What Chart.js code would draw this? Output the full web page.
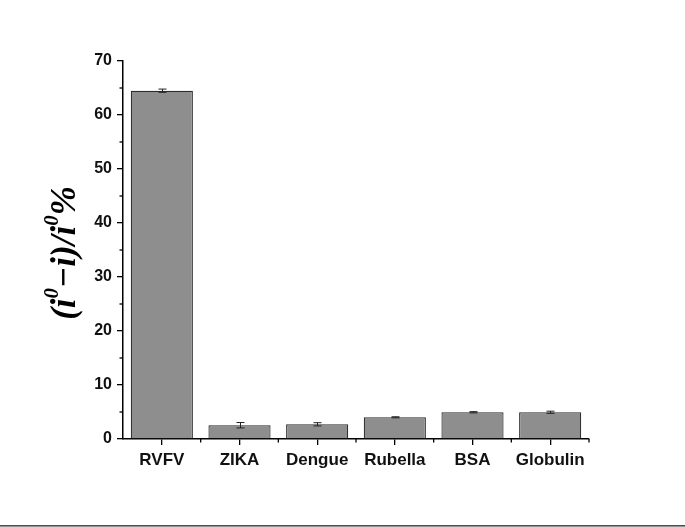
<!DOCTYPE html>
<html><head><meta charset="utf-8">
<script src="https://cdn.jsdelivr.net/npm/chart.js@4"></script>
<style>html,body{margin:0;padding:0;background:#fff;}canvas{display:block;}</style>
</head><body>
<canvas id="c" width="685" height="527"></canvas>
<script>
const categories = ['RVFV', 'ZIKA', 'Dengue', 'Rubella', 'BSA', 'Globulin'];
const values = [64.5, 2.55, 2.72, 4.02, 4.95, 4.95];
const errors = [0.3, 0.5, 0.3, 0.1, 0.12, 0.2];
const yMin = 0, yMax = 70, yStep = 10;

const extras = {
  id: 'extras',
  beforeDraw(chart) {
    const c = chart.ctx;
    c.save();
    c.fillStyle = '#fff';
    c.fillRect(0, 0, chart.width, chart.height);
    c.restore();
  },
  afterDraw(chart) {
    const c = chart.ctx, x = chart.scales.x, y = chart.scales.y;
    const meta = chart.getDatasetMeta(0);
    c.save();
    // error bars
    c.strokeStyle = '#222'; c.lineWidth = 1;
    meta.data.forEach((bar, i) => {
      const px = Math.round(bar.x) + 0.5;
      const top = y.getPixelForValue(values[i] + errors[i]);
      const bot = y.getPixelForValue(values[i] - errors[i]);
      c.beginPath();
      c.moveTo(px, top); c.lineTo(px, bot);
      c.moveTo(px - 4, top); c.lineTo(px + 4, top);
      c.moveTo(px - 4, bot); c.lineTo(px + 4, bot);
      c.stroke();
    });
    // minor y ticks
    c.strokeStyle = '#000'; c.lineWidth = 1.3;
    for (let v = yMin + yStep / 2; v < yMax; v += yStep) {
      const py = y.getPixelForValue(v);
      c.beginPath(); c.moveTo(x.left, py); c.lineTo(x.left - 3.5, py); c.stroke();
    }
    // minor x ticks at category boundaries
    const step = x.getPixelForValue(1) - x.getPixelForValue(0);
    for (let i = 1; i <= categories.length; i++) {
      const px = x.getPixelForValue(i) - step / 2;
      c.beginPath(); c.moveTo(px, y.bottom); c.lineTo(px, y.bottom + 3.5); c.stroke();
    }
    // y axis title with superscripts
    c.translate(56, (y.top + y.bottom) / 2 + 3);
    c.rotate(-Math.PI / 2);
    c.fillStyle = '#000';
    const big = 'italic bold 35px "Liberation Serif", "Times New Roman", serif';
    const small = 'italic bold 21px "Liberation Serif", "Times New Roman", serif';
    const parts = [['(i', big, 0], ['0', small, -13], ['\u2212i)/i', big, 0], ['0', small, -13], ['%', big, 0]];
    let total = 0;
    parts.forEach(p => { c.font = p[1]; total += c.measureText(p[0]).width; });
    let cx = -total / 2;
    c.textBaseline = 'middle';
    parts.forEach(p => { c.font = p[1]; c.fillText(p[0], cx, 10 + p[2]); cx += c.measureText(p[0]).width; });
    c.restore();
    // bottom rule
    c.save();
    c.fillStyle = '#4d4d4d';
    c.fillRect(0, 525, chart.width, 1.6);
    c.restore();
  }
};

new Chart(document.getElementById('c'), {
  type: 'bar',
  data: {
    labels: categories,
    datasets: [{
      data: values,
      backgroundColor: '#8e8e8e',
      borderColor: '#2b2b2b',
      borderWidth: 1.2,
      categoryPercentage: 0.8,
      barPercentage: 1.0
    }]
  },
  options: {
    responsive: false,
    animation: false,
    devicePixelRatio: 1,
    layout: { padding: { left: 0, right: 96, top: 61, bottom: 0 } },
    plugins: { legend: { display: false }, tooltip: { enabled: false } },
    scales: {
      x: {
        offset: true,
        grid: { display: true, drawOnChartArea: false, offset: false, tickLength: 6, color: '#000', lineWidth: 1.3 },
        border: { display: true, color: '#000', width: 1.5 },
        ticks: { color: '#111', padding: 5, font: { family: 'Arial, "Liberation Sans", sans-serif', size: 17, weight: 'bold' } },
        afterFit(s) { s.height = 88; }
      },
      y: {
        min: yMin, max: yMax,
        ticks: { stepSize: yStep, color: '#111', padding: 5, font: { family: 'Arial, "Liberation Sans", sans-serif', size: 16, weight: 'bold' } },
        grid: { display: true, drawOnChartArea: false, tickLength: 6, color: '#000', lineWidth: 1.3 },
        border: { display: true, color: '#000', width: 1.5 },
        afterFit(s) { s.width = 123; }
      }
    }
  },
  plugins: [extras]
});
</script>
</body></html>
